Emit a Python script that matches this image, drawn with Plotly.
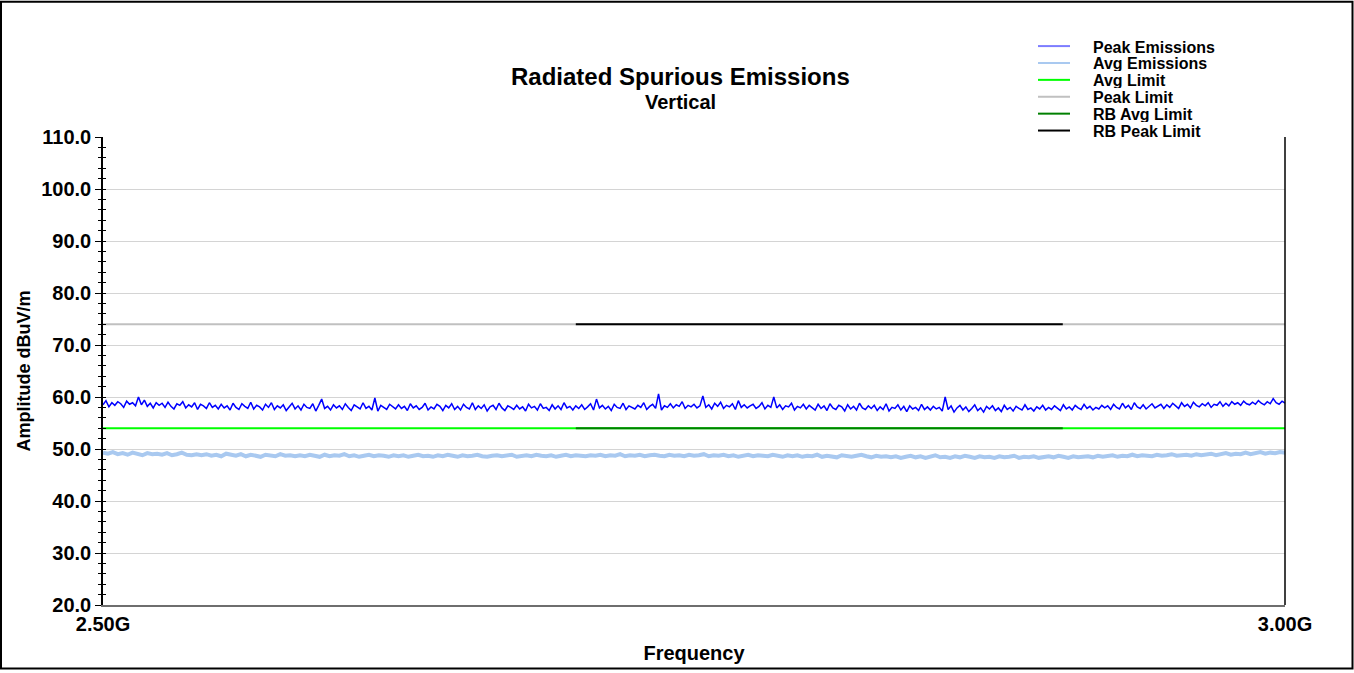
import numpy as np
import plotly.graph_objects as go

# ---------------- data ----------------
f_start_mhz = 2500
f_stop_mhz = 3000

peak_emissions = [
    58.5, 59.3, 58.1, 58.9, 58.4, 59.1, 58.7, 58.0, 59.2, 58.6, 58.9, 58.3, 60.0, 58.5, 59.4, 58.2, 58.8, 57.9, 58.9, 58.4,
    58.8, 58.0, 59.0, 58.2, 57.7, 58.7, 58.4, 59.1, 57.9, 58.5, 58.1, 58.9, 57.6, 58.6, 58.3, 57.8, 58.9, 58.0, 58.4, 57.7,
    58.6, 57.9, 58.3, 57.5, 58.8, 58.0, 57.6, 58.7, 58.2, 57.8, 59.0, 57.7, 58.4, 58.1, 57.5, 58.6, 58.0, 58.9, 57.6, 58.3,
    57.9, 58.5, 57.4, 58.2, 58.8, 57.7, 58.3, 57.5, 58.6, 58.0, 57.8, 58.7, 57.3, 58.4, 59.6, 57.8, 58.2, 57.5, 58.5, 57.9,
    58.3, 57.6, 58.7, 58.0, 57.4, 58.5, 58.1, 57.7, 58.9, 57.8, 58.2, 57.5, 59.8, 57.3, 58.4, 58.0, 57.6, 58.6, 58.1, 57.7,
    58.5, 57.8, 58.2, 57.4, 58.7, 57.9, 58.3, 57.6, 58.0, 58.8, 57.5, 58.1, 57.7, 58.6, 58.2, 57.4, 58.4, 57.9, 58.7, 57.6,
    58.2, 57.5, 58.6, 58.0, 57.7, 58.9, 57.6, 58.3, 57.8, 58.5, 57.3, 58.1, 58.4, 57.6, 58.8, 57.9, 57.4, 58.3, 58.0, 57.6,
    58.4, 57.7, 58.1, 57.3, 58.6, 57.9, 58.2, 57.5, 58.7, 57.8, 58.0, 57.4, 58.5, 57.7, 58.3, 57.6, 58.9, 57.9, 58.2, 57.5,
    58.3, 57.8, 58.5, 57.6, 58.1, 58.7, 57.5, 59.6, 57.9, 58.4, 57.7, 58.2, 57.4, 58.6, 58.0, 57.8, 58.8, 57.6, 58.3, 58.0,
    57.7, 58.4, 58.0, 58.9, 57.6, 58.2, 58.6, 57.8, 60.6, 57.5, 58.3, 58.0, 58.7, 57.9, 58.5, 58.2, 59.1, 57.8, 58.4, 58.1,
    58.6, 57.9, 58.3, 60.2, 58.0, 58.5, 57.7, 58.8, 58.2, 59.0, 57.8, 58.4, 58.1, 58.7, 57.6, 59.3, 58.0, 58.5, 57.9, 58.3,
    58.6, 57.8, 58.2, 58.9, 57.7, 58.4, 58.0, 60.0, 57.9, 58.5, 57.6, 58.3, 58.1, 58.8, 57.5, 58.2, 57.9, 58.6, 57.7, 58.4,
    58.0, 57.5, 58.6, 57.8, 58.3, 57.4, 58.7, 57.9, 57.6, 58.4, 58.1, 57.3, 58.5, 57.7, 58.2, 57.5, 58.8, 57.9, 57.6, 58.3,
    57.8, 58.4, 57.4, 58.1, 57.6, 58.7, 57.3, 58.0, 57.8, 58.5, 57.5, 58.2, 57.2, 58.3, 57.7, 58.0, 57.4, 58.6, 57.6, 58.1,
    57.5, 58.2, 57.7, 58.0, 57.3, 60.0, 57.6, 58.3, 57.1, 57.9, 58.4, 57.5, 58.1, 57.2, 57.8, 58.5, 57.4, 57.9, 57.1, 58.2,
    57.7, 58.3, 57.4, 57.9, 57.2, 58.4, 57.6, 58.0, 57.3, 58.2, 57.8, 57.5, 58.5, 57.6, 57.9, 57.3, 58.1, 57.7, 58.4, 57.5,
    58.0, 57.6, 58.3, 57.8, 57.4, 58.5, 57.7, 58.1, 57.5, 58.4, 57.9, 57.6, 58.6, 57.8, 58.2, 57.5, 58.0, 57.7, 58.4, 57.9,
    58.3, 57.6, 58.6, 58.0, 57.7, 58.8, 57.9, 58.4, 57.6, 58.9, 58.1, 57.8, 58.5, 57.7, 58.3, 58.7, 57.9, 58.2, 58.6, 57.8,
    58.5, 58.0, 58.8, 58.3, 57.8, 58.9, 58.2, 58.6, 57.9, 59.0, 58.4, 58.1, 58.7, 58.3, 58.9, 58.0, 58.6, 58.4, 59.1, 58.2,
    58.8, 58.3, 59.1, 58.6, 58.9, 58.4, 59.2, 58.7, 58.5, 59.0, 58.6, 59.3, 58.8, 58.5, 59.1, 58.7, 59.7, 58.9, 58.6, 59.2, 58.8,
]

avg_emissions = [
    49.3, 49.1, 49.4, 49.0, 49.2, 48.9, 49.3, 49.1, 48.8, 49.2, 49.0, 49.1, 48.9, 49.2, 48.8, 49.0, 49.3, 48.9, 48.8, 49.0,
    48.8, 49.0, 48.7, 48.9, 48.6, 49.1, 48.8, 48.7, 49.0, 48.6, 48.9, 48.7, 48.5, 48.9, 48.8, 48.6, 49.0, 48.7, 48.8, 48.6,
    48.8, 48.6, 48.9, 48.7, 48.5, 48.9, 48.6, 48.8, 48.7, 49.0, 48.6, 48.8, 48.5, 48.7, 48.9, 48.6, 48.8, 48.7, 48.5, 48.8,
    48.6, 48.8, 48.5, 48.7, 48.9, 48.6, 48.7, 48.5, 48.8, 48.6, 48.9, 48.7, 48.5, 48.8, 48.6, 48.7, 48.9, 48.6, 48.5, 48.7,
    48.8, 48.6, 48.7, 48.9, 48.5, 48.7, 48.8, 48.6, 48.9, 48.7, 48.6, 48.8, 48.5, 48.7, 48.9, 48.6, 48.8, 48.7, 48.6, 48.8,
    48.7, 48.9, 48.6, 48.8, 48.7, 49.0, 48.6, 48.8, 48.7, 48.9, 48.6, 48.8, 48.9, 48.7, 48.6, 48.9, 48.7, 48.8, 48.6, 48.9,
    48.7, 48.8, 49.0, 48.6, 48.8, 48.7, 48.9, 48.6, 48.8, 48.5, 48.7, 48.9, 48.6, 48.8, 48.7, 48.6, 48.9, 48.7, 48.5, 48.8,
    48.6, 48.8, 48.5, 48.7, 48.6, 48.9, 48.5, 48.7, 48.6, 48.4, 48.8, 48.6, 48.5, 48.7, 48.9, 48.6, 48.4, 48.7, 48.5, 48.6,
    48.4, 48.6, 48.3, 48.5, 48.7, 48.4, 48.6, 48.3, 48.5, 48.8, 48.4, 48.5, 48.3, 48.6, 48.4, 48.7, 48.5, 48.3, 48.6, 48.4,
    48.5, 48.3, 48.6, 48.4, 48.5, 48.7, 48.3, 48.5, 48.4, 48.6, 48.3, 48.5, 48.6, 48.4, 48.7, 48.5, 48.3, 48.6, 48.4, 48.5,
    48.6, 48.4, 48.7, 48.5, 48.6, 48.8, 48.5, 48.7, 48.6, 48.9, 48.6, 48.8, 48.7, 48.6, 48.9, 48.7, 48.8, 49.0, 48.7, 48.8,
    48.9, 48.7, 49.0, 48.8, 48.9, 49.1, 48.8, 49.0, 49.2, 48.9, 49.1, 49.0, 49.3, 49.0, 49.2, 49.4, 49.1, 49.3, 49.2, 49.4, 49.3,
]

avg_limit = 54.0
peak_limit = 74.0
rb_start_mhz = 2700
rb_stop_mhz = 2906

x_tick_vals = [2500, 3000]
x_tick_text = ["2.50G", "3.00G"]
y_tick_vals = [20, 30, 40, 50, 60, 70, 80, 90, 100, 110]
y_tick_text = ["20.0", "30.0", "40.0", "50.0", "60.0", "70.0", "80.0", "90.0", "100.0", "110.0"]

legend_names = ["Peak Emissions", "Avg Emissions", "Avg Limit", "Peak Limit", "RB Avg Limit", "RB Peak Limit"]
colors = {
    "Peak Emissions": "#0000ff",
    "Avg Emissions": "#a9c9f0",
    "Avg Limit": "#00ff00",
    "Peak Limit": "#c0c0c0",
    "RB Avg Limit": "#008000",
    "RB Peak Limit": "#000000",
}
legend_sample_colors = {
    "Peak Emissions": "#7d7dff",
    "Avg Emissions": "#a9c9f0",
    "Avg Limit": "#00ff00",
    "Peak Limit": "#c0c0c0",
    "RB Avg Limit": "#008000",
    "RB Peak Limit": "#000000",
}

# ---------------- layout geometry ----------------
W, H = 1354, 673
L, R, T, B = 103, 1285, 137, 608  # plot area in pixels
pw, ph = R - L, B - T


def px(x):
    return (x - L) / pw


def py(y):
    return (B - y) / ph


FONT = "Liberation Sans, Arial, sans-serif"

freq_peak = np.linspace(f_start_mhz, f_stop_mhz, len(peak_emissions))
freq_avg = np.linspace(f_start_mhz, f_stop_mhz, len(avg_emissions))

fig = go.Figure()

# limits
fig.add_trace(go.Scatter(x=[f_start_mhz, f_stop_mhz], y=[peak_limit, peak_limit], mode="lines",
                         line=dict(color=colors["Peak Limit"], width=2), name="Peak Limit", showlegend=False))
fig.add_trace(go.Scatter(x=[f_start_mhz, f_stop_mhz], y=[avg_limit, avg_limit], mode="lines",
                         line=dict(color=colors["Avg Limit"], width=2), name="Avg Limit", showlegend=False))
fig.add_trace(go.Scatter(x=[rb_start_mhz, rb_stop_mhz], y=[peak_limit, peak_limit], mode="lines",
                         line=dict(color=colors["RB Peak Limit"], width=2), name="RB Peak Limit", showlegend=False))
fig.add_trace(go.Scatter(x=[rb_start_mhz, rb_stop_mhz], y=[avg_limit, avg_limit], mode="lines",
                         line=dict(color=colors["RB Avg Limit"], width=2), name="RB Avg Limit", showlegend=False))
# emissions
fig.add_trace(go.Scatter(x=freq_avg, y=avg_emissions, mode="lines",
                         line=dict(color=colors["Avg Emissions"], width=4), name="Avg Emissions", showlegend=False))
fig.add_trace(go.Scatter(x=freq_peak, y=peak_emissions, mode="lines",
                         line=dict(color=colors["Peak Emissions"], width=1.5), name="Peak Emissions", showlegend=False))

shapes = []
annotations = []

# manual legend (tight rows like the reference)
leg_rows_y = [46, 63, 80, 97, 114, 131]
for name, yy in zip(legend_names, leg_rows_y):
    shapes.append(dict(type="line", xref="paper", yref="paper",
                       x0=px(1038), x1=px(1070), y0=py(yy - 0.5), y1=py(yy - 0.5),
                       line=dict(color=legend_sample_colors[name], width=2)))
    annotations.append(dict(text="<b>%s</b>" % name, xref="paper", yref="paper", x=px(1092), y=py(yy),
                            xanchor="left", yanchor="middle", showarrow=False, height=16, borderpad=0,
                            font=dict(family=FONT, size=16, color="#000000")))

# titles
annotations.append(dict(text="<b>Radiated Spurious Emissions</b>", xref="paper", yref="paper",
                        x=px(680), y=py(76), xanchor="center", yanchor="middle", showarrow=False,
                        font=dict(family=FONT, size=24, color="#000000")))
annotations.append(dict(text="<b>Vertical</b>", xref="paper", yref="paper",
                        x=px(680), y=py(102), xanchor="center", yanchor="middle", showarrow=False,
                        font=dict(family=FONT, size=20, color="#000000")))

# right border of plot
shapes.append(dict(type="line", xref="paper", yref="paper", x0=1, x1=1, y0=0, y1=1,
                   line=dict(color="#000000", width=1.5)))
# outer frame of the image
shapes.append(dict(type="rect", xref="paper", yref="paper",
                   x0=px(1), x1=px(W - 1.5), y0=py(H - 1), y1=py(1),
                   line=dict(color="#000000", width=2), fillcolor="rgba(0,0,0,0)", layer="above"))

fig.update_layout(
    width=W, height=H,
    margin=dict(l=L, r=W - R, t=T, b=H - B, pad=0),
    paper_bgcolor="white", plot_bgcolor="white",
    showlegend=False,
    shapes=shapes,
    annotations=annotations,
    font=dict(family=FONT, color="#000000"),
    xaxis=dict(
        range=[f_start_mhz, f_stop_mhz],
        tickvals=x_tick_vals, ticktext=["<b>%s</b>" % t for t in x_tick_text],
        tickfont=dict(family=FONT, size=20, color="#000000"),
        ticks="", showgrid=False, zeroline=False,
        showline=True, linecolor="#6e6e6e", linewidth=1.5,
        title=dict(text="<b>Frequency</b>", font=dict(family=FONT, size=20, color="#000000"), standoff=12),
    ),
    yaxis=dict(
        range=[20, 110],
        tickvals=y_tick_vals, ticktext=["<b>%s</b>" % t for t in y_tick_text],
        tickfont=dict(family=FONT, size=20, color="#000000"),
        ticks="outside", ticklen=6, tickwidth=1, tickcolor="#000000",
        minor=dict(dtick=2, ticks="outside", ticklen=3, tickcolor="#000000", tickwidth=1, showgrid=False),
        showgrid=True, gridcolor="#d4d4d4", gridwidth=1,
        zeroline=False, showline=True, linecolor="#000000", linewidth=1.5,
        title=dict(text="<b>Amplitude dBuV/m</b>", font=dict(family=FONT, size=18, color="#000000"), standoff=6),
    ),
    yaxis2=dict(
        range=[20, 110], overlaying="y", side="left",
        tickvals=y_tick_vals, showticklabels=False,
        ticks="inside", ticklen=3, tickwidth=1, tickcolor="#000000",
        minor=dict(dtick=2, ticks="inside", ticklen=3, tickcolor="#000000", tickwidth=1, showgrid=False),
        showgrid=False, zeroline=False, showline=False,
    ),
)

# invisible trace to activate yaxis2
fig.add_trace(go.Scatter(x=[f_start_mhz], y=[20], yaxis="y2", mode="markers",
                         marker=dict(opacity=0), showlegend=False, hoverinfo="skip"))

fig.write_html("out.html")
